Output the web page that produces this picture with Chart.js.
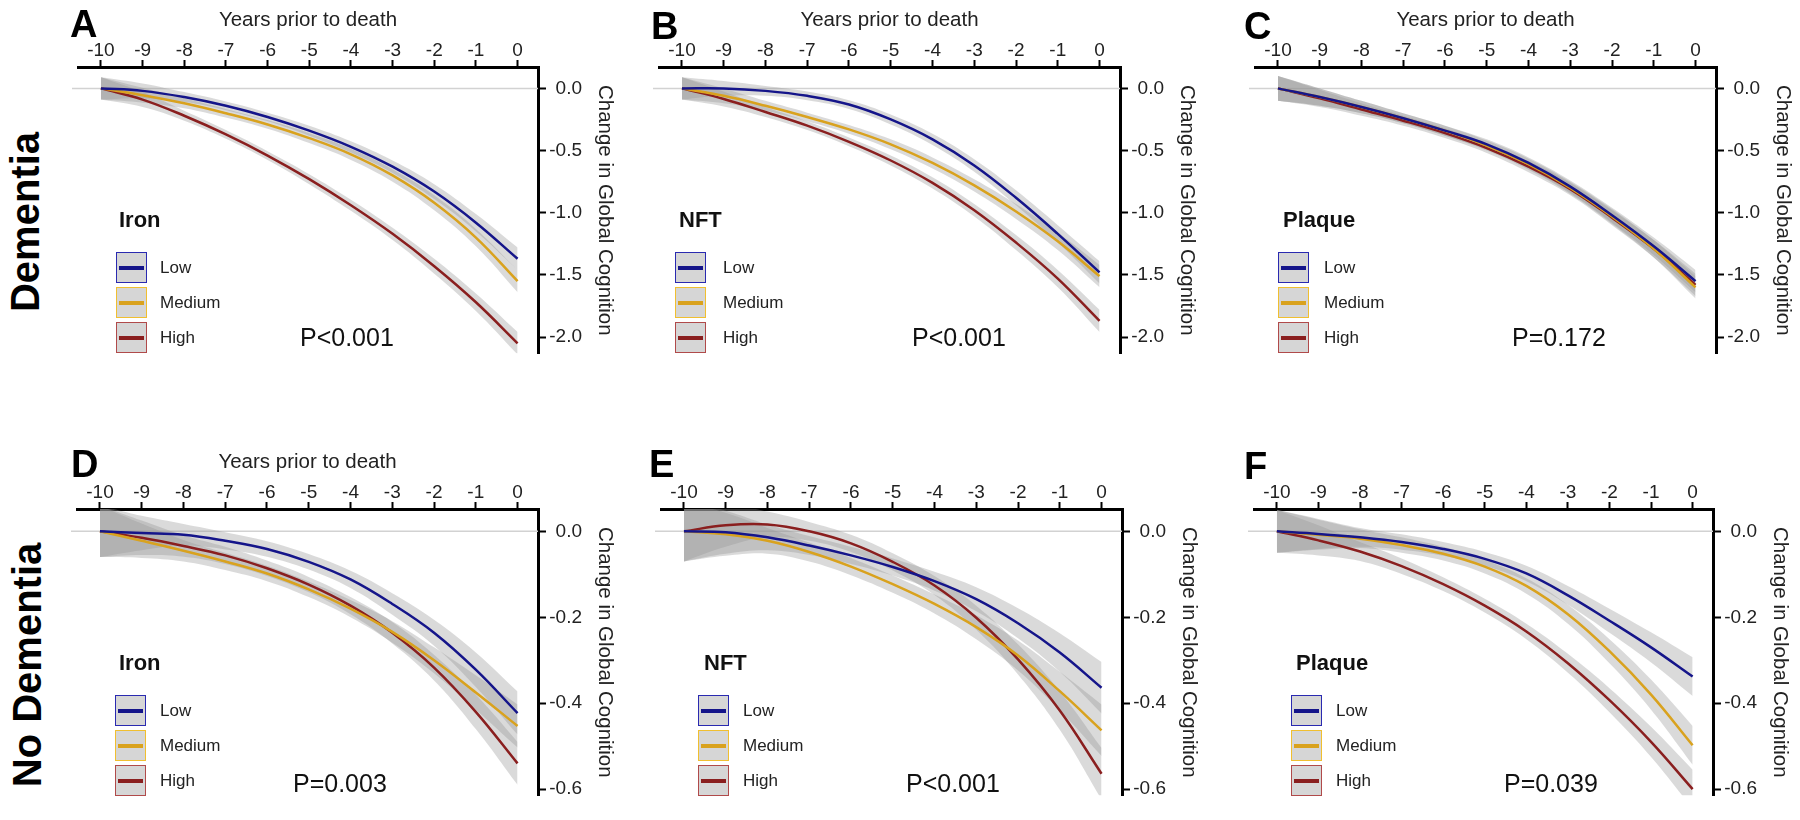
<!DOCTYPE html>
<html>
<head>
<meta charset="utf-8">
<script src="https://cdn.jsdelivr.net/npm/chart.js@4.4.1/dist/chart.umd.min.js"></script>
<style>
body { margin: 0; background: #fff; width: 1800px; height: 820px; overflow: hidden; position: relative; font-family: "Liberation Sans", Arial, sans-serif; }
canvas { position: absolute; }
.letter { position: absolute; font-weight: bold; font-size: 38px; line-height: 1; color: #000; }
.rowLabel { position: absolute; font-weight: bold; font-size: 40px; white-space: nowrap; transform: translate(-50%, -50%) rotate(-90deg); }
.lgTitle { position: absolute; font-weight: bold; font-size: 22px; transform: translateY(-50%); color: #111; }
.box { position: absolute; width: 29px; height: 29px; background: #d6d6d6; border: 1.5px solid; }
.box i { position: absolute; left: 2px; right: 2px; top: 12.5px; height: 4px; }
.lab { position: absolute; font-size: 17px; transform: translateY(-50%); color: #222; }
.pval { position: absolute; font-size: 25px; transform: translateY(-50%); color: #111; }
</style>
</head>
<body>
<script>
// x values and tick labels
const years = [-10, -9, -8, -7, -6, -5, -4, -3, -2, -1, 0];
const groupNames = ['Low', 'Medium', 'High'];
const yTicksDementia = [0, -0.5, -1, -1.5, -2];
const yTicksNoDementia = [0, -0.2, -0.4, -0.6];

// A: Dementia, Iron
const ironDemLow  = [0, -0.02, -0.07, -0.14, -0.23, -0.34, -0.47, -0.63, -0.83, -1.08, -1.37];
const ironDemMed  = [0, -0.055, -0.12, -0.20, -0.29, -0.40, -0.53, -0.70, -0.92, -1.20, -1.55];
const ironDemHigh = [0, -0.09, -0.22, -0.37, -0.54, -0.73, -0.94, -1.17, -1.43, -1.72, -2.05];
const ironDemBand = [0.09, 0.06, 0.04, 0.035, 0.035, 0.04, 0.045, 0.05, 0.06, 0.07, 0.09];

// B: Dementia, NFT
const nftDemLow  = [0, 0, -0.02, -0.06, -0.13, -0.25, -0.41, -0.62, -0.88, -1.17, -1.48];
const nftDemMed  = [0, -0.06, -0.14, -0.23, -0.33, -0.45, -0.60, -0.78, -0.99, -1.23, -1.51];
const nftDemHigh = [0, -0.085, -0.19, -0.30, -0.43, -0.58, -0.76, -0.98, -1.24, -1.53, -1.87];
const nftDemBand = [0.09, 0.06, 0.04, 0.035, 0.035, 0.04, 0.045, 0.05, 0.06, 0.07, 0.09];

// C: Dementia, Plaque
const plqDemLow  = [0, -0.07, -0.15, -0.24, -0.34, -0.45, -0.60, -0.79, -1.02, -1.27, -1.55];
const plqDemMed  = [0, -0.07, -0.15, -0.24, -0.34, -0.46, -0.61, -0.80, -1.03, -1.29, -1.60];
const plqDemHigh = [0, -0.08, -0.17, -0.26, -0.36, -0.48, -0.63, -0.81, -1.04, -1.29, -1.58];
const plqDemBand = [0.1, 0.07, 0.05, 0.04, 0.04, 0.04, 0.045, 0.05, 0.06, 0.07, 0.09];

// D: No dementia, Iron
const ironNoLow  = [0, -0.004, -0.008, -0.022, -0.041, -0.071, -0.112, -0.169, -0.236, -0.322, -0.423];
const ironNoMed  = [0, -0.022, -0.045, -0.07, -0.098, -0.135, -0.18, -0.234, -0.30, -0.375, -0.453];
const ironNoHigh = [0, -0.015, -0.034, -0.056, -0.086, -0.124, -0.173, -0.236, -0.317, -0.42, -0.54];
const ironNoBand = [0.06, 0.04, 0.025, 0.02, 0.018, 0.018, 0.02, 0.025, 0.03, 0.04, 0.05];

// E: No dementia, NFT
const nftNoLow  = [0, -0.002, -0.014, -0.033, -0.056, -0.083, -0.116, -0.158, -0.214, -0.282, -0.364];
const nftNoMed  = [0, -0.007, -0.022, -0.048, -0.082, -0.123, -0.169, -0.223, -0.289, -0.372, -0.463];
const nftNoHigh = [0, 0.014, 0.016, 0.0, -0.028, -0.071, -0.126, -0.201, -0.298, -0.417, -0.564];
const nftNoBand = [0.07, 0.05, 0.03, 0.022, 0.02, 0.02, 0.022, 0.028, 0.035, 0.045, 0.06];

// F: No dementia, Plaque
const plqNoLow  = [0, -0.006, -0.014, -0.025, -0.041, -0.064, -0.098, -0.149, -0.208, -0.27, -0.338];
const plqNoMed  = [0, -0.008, -0.017, -0.032, -0.052, -0.082, -0.127, -0.193, -0.279, -0.380, -0.498];
const plqNoHigh = [0, -0.021, -0.047, -0.081, -0.123, -0.173, -0.233, -0.307, -0.393, -0.49, -0.6];
const plqNoBand = [0.05, 0.035, 0.022, 0.018, 0.016, 0.016, 0.018, 0.022, 0.028, 0.035, 0.045];

const lineColors = ['#15158a', '#d9a21e', '#8a1f1f'];
const boxBorders = ['#2a2ab0', '#f0bf30', '#b04a4a'];
const bandColor = 'rgba(150,150,150,0.35)';
const FONT = 'Liberation Sans';

const rows = [
    { top: 0, caTop: 67, caBottom: 362, yMin: -2.133, yMax: 0.172, ticks: yTicksDementia,
      label: 'Dementia', labelX: 25, labelY: 222, lgTitleY: 220, boxTop: 252, pY: 337 },
    { top: 442, caTop: 509, caBottom: 804, yMin: -0.615, yMax: 0.052, ticks: yTicksNoDementia,
      label: 'No Dementia', labelX: 27, labelY: 665, lgTitleY: 663, boxTop: 695, pY: 783 }
];

const panels = [
    { letter: 'A', lx: 70, ly: 5, measure: 'Iron', p: 'P<0.001', row: 0, left: 78, right: 538, xTitle: true,
      series: [ironDemLow, ironDemMed, ironDemHigh], band: ironDemBand, lg: [41, 38, 82, 222] },
    { letter: 'B', lx: 651, ly: 7, measure: 'NFT', p: 'P<0.001', row: 0, left: 659, right: 1120, xTitle: true,
      series: [nftDemLow, nftDemMed, nftDemHigh], band: nftDemBand, lg: [20, 16, 64, 253] },
    { letter: 'C', lx: 1244, ly: 7, measure: 'Plaque', p: 'P=0.172', row: 0, left: 1255, right: 1716, xTitle: true,
      series: [plqDemLow, plqDemMed, plqDemHigh], band: plqDemBand, lg: [28, 23, 69, 257] },
    { letter: 'D', lx: 71, ly: 445, measure: 'Iron', p: 'P=0.003', row: 1, left: 77, right: 538, xTitle: true,
      series: [ironNoLow, ironNoMed, ironNoHigh], band: ironNoBand, lg: [42, 38, 83, 216] },
    { letter: 'E', lx: 649, ly: 445, measure: 'NFT', p: 'P<0.001', row: 1, left: 661, right: 1122, xTitle: false,
      series: [nftNoLow, nftNoMed, nftNoHigh], band: nftNoBand, lg: [43, 37, 82, 245] },
    { letter: 'F', lx: 1244, ly: 447, measure: 'Plaque', p: 'P=0.039', row: 1, left: 1254, right: 1713, xTitle: false,
      series: [plqNoLow, plqNoMed, plqNoHigh], band: plqNoBand, lg: [42, 37, 82, 250] }
];

// light gray reference line at zero
const zeroLine = {
    id: 'zeroLine',
    beforeDatasetsDraw(chart) {
        const { ctx, chartArea: a, scales: { y } } = chart;
        const py = y.getPixelForValue(0);
        ctx.save();
        ctx.strokeStyle = '#d2d2d2';
        ctx.lineWidth = 1.5;
        ctx.beginPath();
        ctx.moveTo(a.left - 6, py);
        ctx.lineTo(a.right, py);
        ctx.stroke();
        ctx.restore();
    }
};

function addDiv(cls, text, x, y) {
    const d = document.createElement('div');
    d.className = cls;
    d.textContent = text;
    d.style.left = x + 'px';
    d.style.top = y + 'px';
    document.body.appendChild(d);
    return d;
}

rows.forEach(r => addDiv('rowLabel', r.label, r.labelX, r.labelY));

panels.forEach(pn => {
    const row = rows[pn.row];
    // y axis box holds ticks + right-aligned labels; the title sits in the right padding
    const padL = 12, yAxisW = 44, padR = 38, padB = 8;
    const canvas = document.createElement('canvas');
    canvas.width = padL + (pn.right - pn.left) + yAxisW + padR;
    canvas.height = row.caBottom - row.top + padB;
    canvas.style.left = (pn.left - padL) + 'px';
    canvas.style.top = row.top + 'px';
    document.body.appendChild(canvas);

    const datasets = [];
    pn.series.forEach((vals, i) => {
        datasets.push({
            label: groupNames[i],
            data: years.map((x, k) => ({ x: x, y: vals[k] })),
            borderColor: lineColors[i],
            borderWidth: 2.5,
            pointRadius: 0,
            fill: false,
            tension: 0.4,
            order: 0
        });
    });
    pn.series.forEach(vals => {
        datasets.push({
            data: years.map((x, k) => ({ x: x, y: vals[k] + pn.band[k] })),
            borderColor: 'rgba(0,0,0,0)', borderWidth: 0, pointRadius: 0,
            backgroundColor: bandColor, fill: '+1', tension: 0.4, order: 1
        });
        datasets.push({
            data: years.map((x, k) => ({ x: x, y: vals[k] - pn.band[k] })),
            borderColor: 'rgba(0,0,0,0)', borderWidth: 0, pointRadius: 0,
            fill: false, tension: 0.4, order: 1
        });
    });

    new Chart(canvas.getContext('2d'), {
        type: 'line',
        data: { datasets: datasets },
        plugins: [zeroLine],
        options: {
            responsive: false,
            animation: false,
            layout: { padding: { left: padL, top: 0, right: padR, bottom: padB } },
            plugins: { legend: { display: false }, tooltip: { enabled: false } },
            scales: {
                x: {
                    type: 'linear', position: 'top', min: -10.55, max: 0.49,
                    afterBuildTicks: s => { s.ticks = years.map(v => ({ value: v })); },
                    afterFit: s => { s.height = row.caTop - row.top; },
                    border: { display: true, color: '#000', width: 3 },
                    grid: { drawOnChartArea: false, drawTicks: true, tickLength: 7, tickColor: '#000', tickWidth: 2 },
                    ticks: { color: '#222', padding: 0, maxRotation: 0, autoSkip: false,
                             font: { family: FONT, size: 19, lineHeight: 1 }, callback: v => String(v) },
                    title: { display: pn.xTitle, text: 'Years prior to death', color: '#222',
                             font: { family: FONT, size: 20.5, lineHeight: 1.2 }, padding: { top: 8, bottom: 0 } }
                },
                y: {
                    type: 'linear', position: 'right', min: row.yMin, max: row.yMax,
                    afterBuildTicks: s => { s.ticks = row.ticks.map(v => ({ value: v })); },
                    afterFit: s => { s.width = yAxisW; },
                    border: { display: true, color: '#000', width: 3 },
                    grid: { drawOnChartArea: false, drawTicks: true, tickLength: 8, tickColor: '#000', tickWidth: 2 },
                    ticks: { color: '#222', padding: 5, crossAlign: 'far',
                             font: { family: FONT, size: 19 }, callback: v => v.toFixed(1) },
                    title: { display: true, text: 'Change in Global Cognition', color: '#222',
                             font: { family: FONT, size: 20.5, lineHeight: 1.2 }, padding: { top: -35.3, bottom: 0 } }
                }
            }
        }
    });

    // panel letter, legend and p-value
    addDiv('letter', pn.letter, pn.lx, pn.ly);
    addDiv('lgTitle', pn.measure, pn.left + pn.lg[0], row.lgTitleY);
    groupNames.forEach((g, i) => {
        const top = row.boxTop + i * 35;
        const b = addDiv('box', '', pn.left + pn.lg[1], top);
        b.style.borderColor = boxBorders[i];
        const ln = document.createElement('i');
        ln.style.background = lineColors[i];
        b.appendChild(ln);
        addDiv('lab', g, pn.left + pn.lg[2], top + 16);
    });
    addDiv('pval', pn.p, pn.left + pn.lg[3], row.pY);
});
</script>
</body>
</html>
